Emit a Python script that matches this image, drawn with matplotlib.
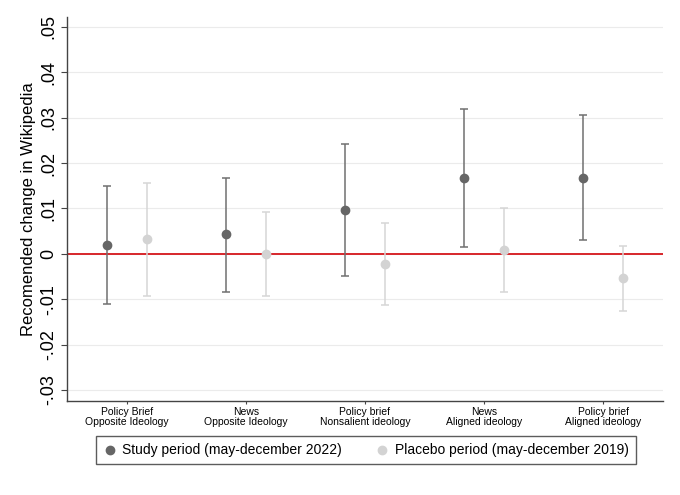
import numpy as np
import matplotlib
matplotlib.use("Agg")
import matplotlib.pyplot as plt

plt.rcParams["font.family"] = ["Liberation Sans", "DejaVu Sans"]

labels = ["Policy Brief\nOpposite Ideology", "News\nOpposite Ideology",
          "Policy brief\nNonsalient ideology", "News\nAligned ideology",
          "Policy brief\nAligned ideology"]
study = [0.0020, 0.0043, 0.0096, 0.0167, 0.0168]
study_lo = [-0.0110, -0.0084, -0.0048, 0.0014, 0.0031]
study_hi = [0.0150, 0.0168, 0.0241, 0.0319, 0.0305]
placebo = [0.0032, 0.0000, -0.0022, 0.0009, -0.0054]
placebo_lo = [-0.0093, -0.0092, -0.0113, -0.0084, -0.0125]
placebo_hi = [0.0155, 0.0093, 0.0069, 0.0102, 0.0018]
yticks = [-0.03, -0.02, -0.01, 0, 0.01, 0.02, 0.03, 0.04, 0.05]

dark = "#666666"
light = "#d3d3d3"

fig = plt.figure(figsize=(6.8, 4.95), dpi=100)
ax = fig.add_axes([0.0985, 0.19, 0.8765, 0.776])

x = np.arange(1, len(labels) + 1)
off = 0.168

for i in range(len(x)):
    ax.errorbar(x[i] - off, study[i],
                yerr=[[study[i] - study_lo[i]], [study_hi[i] - study[i]]],
                fmt="o", color=dark, ecolor="#707070", ms=6, elinewidth=1.1,
                capsize=2.8, capthick=1.1, zorder=3)
    ax.errorbar(x[i] + off, placebo[i],
                yerr=[[placebo[i] - placebo_lo[i]], [placebo_hi[i] - placebo[i]]],
                fmt="o", color=light, ecolor="#d6d6d6", ms=6, elinewidth=1.1,
                capsize=2.8, capthick=1.1, zorder=3)

ax.axhline(0, color="#d7262b", lw=1.4, zorder=2)

ax.set_xlim(0.5, 5.5)
ax.set_ylim(-0.0324, 0.0522)
ax.set_yticks(yticks)


def fmt(v):
    if abs(v) < 1e-9:
        return "0"
    s = "%.2f" % v
    return s.replace("0.", ".")


ax.set_yticklabels([fmt(v) for v in yticks], rotation=90, va="center", fontsize=13)
ax.set_xticks(x)
ax.set_xticklabels(labels, fontsize=7.5, linespacing=1.05,
                   family=["Liberation Sans Narrow", "Liberation Sans"])
ax.grid(axis="y", color="#ebebeb", lw=0.8, zorder=0)
ax.set_axisbelow(True)
ax.set_ylabel("Recomended change in Wikipedia", fontsize=12, labelpad=3)

for s in ["top", "right"]:
    ax.spines[s].set_visible(False)
for s in ["left", "bottom"]:
    ax.spines[s].set_color("#444444")
    ax.spines[s].set_linewidth(1.0)
ax.tick_params(axis="y", length=4, color="#444444", pad=3)
ax.tick_params(axis="x", length=2, color="#444444", pad=2)

h1 = ax.scatter([], [], color=dark, s=36)
h2 = ax.scatter([], [], color=light, s=36)
leg = fig.legend([h1, h2], ["Study period (may-december 2022)",
                            "Placebo period (may-december 2019)"],
                 loc="center", bbox_to_anchor=(0.538, 0.091), ncol=2,
                 fontsize=10, frameon=True, fancybox=False, edgecolor="#333333",
                 handletextpad=0.4, columnspacing=2.4, borderpad=0.5,
                 handlelength=1.0)
leg.get_frame().set_linewidth(1.0)

fig.savefig("out.png", dpi=100)
